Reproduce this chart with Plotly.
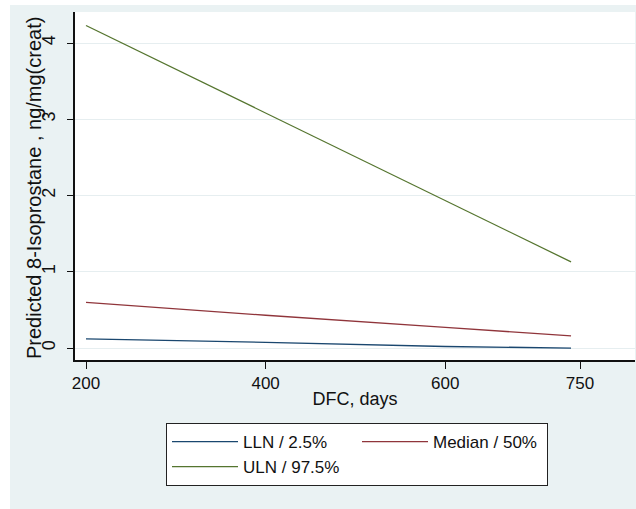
import plotly.graph_objects as go

# Predicted 8-isoprostane reference limits by days from conception (DFC)
dfc_days = [200, 400, 600, 740]
lln_2_5 = [0.12, 0.075, 0.02, 0.0]
median_50 = [0.60, 0.43, 0.27, 0.16]
uln_97_5 = [4.23, 3.08, 1.93, 1.13]

series_names = ["LLN / 2.5%", "Median / 50%", "ULN / 97.5%"]
series_colors = ["#1a476f", "#90353b", "#55752f"]

x_ticks = [200, 400, 600, 750]
y_ticks = [0, 1, 2, 3, 4]

SANS = "Liberation Sans, Arial, sans-serif"
GRAPH_BG = "#eaf2f3"

# plot-area geometry in pixels (used to place paper-referenced extras)
PLOT_L, PLOT_W, PLOT_T, PLOT_H = 75, 560, 12, 348

fig = go.Figure()
for name, color, ys in zip(series_names, series_colors, [lln_2_5, median_50, uln_97_5]):
    fig.add_trace(go.Scatter(
        x=dfc_days, y=ys, mode="lines", name=name,
        line=dict(color=color, width=1.3),
    ))

fig.update_layout(
    width=636, height=509,
    margin=dict(l=PLOT_L, r=1, t=PLOT_T, b=509 - PLOT_T - PLOT_H),
    paper_bgcolor=GRAPH_BG,
    plot_bgcolor="white",
    font=dict(family=SANS, size=17, color="#111111"),
    showlegend=True,
    legend=dict(
        orientation="h",
        x=(166 - PLOT_L) / PLOT_W, xanchor="left",
        y=(PLOT_T + PLOT_H - 423) / PLOT_H, yanchor="top",
        bgcolor="white",
        bordercolor="#222222", borderwidth=1,
        itemwidth=66,
        entrywidth=109,
        font=dict(family=SANS, size=17, color="#111111"),
        traceorder="normal",
    ),
    xaxis=dict(
        range=[187.75, 811.2],
        tickmode="array", tickvals=x_ticks,
        ticks="outside", ticklen=7, tickwidth=1.3, tickcolor="#111111",
        showline=True, linecolor="#111111", linewidth=1.5,
        showgrid=False, zeroline=False,
        tickfont=dict(family=SANS, size=17),
        title=dict(text="DFC, days", font=dict(family=SANS, size=18), standoff=0),
    ),
    yaxis=dict(
        range=[-0.157, 4.407],
        tickmode="array", tickvals=y_ticks,
        tickangle=-90,
        ticks="outside", ticklen=6, tickwidth=1.3, tickcolor="#111111",
        ticklabelstandoff=5,
        showline=True, linecolor="#111111", linewidth=1.5,
        showgrid=True, gridcolor="#e6eef0", gridwidth=1,
        zeroline=False,
        tickfont=dict(family=SANS, size=18),
    ),
    annotations=[
        dict(text="Predicted 8-Isoprostane , ng/mg(creat)",
             xref="paper", yref="paper",
             x=(34 - PLOT_L) / PLOT_W, y=(PLOT_T + PLOT_H - 188) / PLOT_H,
             xanchor="center", yanchor="middle",
             textangle=-90, showarrow=False,
             font=dict(family=SANS, size=20, color="#111111")),
    ],
    shapes=[
        # thin white border strips around the graph region
        dict(type="rect", xref="paper", yref="paper",
             x0=-PLOT_L / PLOT_W, x1=(10 - PLOT_L) / PLOT_W,
             y0=-(509 - PLOT_T - PLOT_H) / PLOT_H, y1=(PLOT_H + PLOT_T) / PLOT_H,
             fillcolor="white", line=dict(width=0), layer="below"),
        dict(type="rect", xref="paper", yref="paper",
             x0=-PLOT_L / PLOT_W, x1=1.01,
             y0=(PLOT_H + PLOT_T - 5) / PLOT_H, y1=(PLOT_H + PLOT_T) / PLOT_H,
             fillcolor="white", line=dict(width=0), layer="below"),
    ],
)

fig.write_html("out.html")
